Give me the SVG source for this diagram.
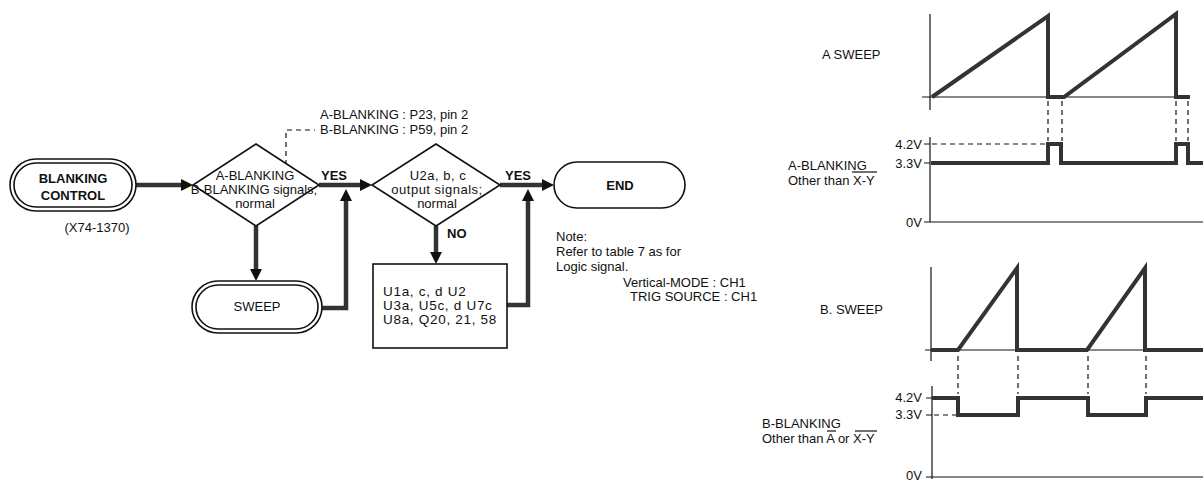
<svg xmlns="http://www.w3.org/2000/svg" width="1203" height="481" viewBox="0 0 1203 481">
<style>
text{font-family:"Liberation Sans",Arial,sans-serif;fill:#111;font-size:13px}
.b{font-weight:bold}
.box{fill:#fff;stroke:#111;stroke-width:1.6}
.thin{fill:none;stroke:#111;stroke-width:1.2}
.dash{fill:none;stroke:#111;stroke-width:1.2;stroke-dasharray:5 4}
.flow{fill:none;stroke:#333;stroke-width:4.5}
.sig{fill:none;stroke:#333;stroke-width:4;stroke-linejoin:miter}
.m{text-anchor:middle}
.e{text-anchor:end}
.w{letter-spacing:0.5px}
.ic{font-size:13.5px;letter-spacing:0.7px}
</style>
<defs>
<marker id="ah" markerUnits="userSpaceOnUse" markerWidth="12" markerHeight="12" refX="2" refY="6" orient="auto">
<path d="M0,0 L12,6 L0,12 z" fill="#111"/>
</marker>
</defs>

<g id="connectors">
<line class="flow" x1="136" y1="185" x2="183" y2="185" marker-end="url(#ah)"/>
<line class="flow" x1="319" y1="185" x2="362" y2="185" marker-end="url(#ah)"/>
<line class="flow" x1="500" y1="185" x2="544" y2="185" marker-end="url(#ah)"/>
<line class="flow" x1="256" y1="226" x2="256" y2="271" marker-end="url(#ah)"/>
<line class="flow" x1="436" y1="226" x2="436" y2="254" marker-end="url(#ah)"/>
<path class="flow" d="M322 308 H346 V199" marker-end="url(#ah)"/>
<path class="flow" d="M507 305 H528 V199" marker-end="url(#ah)"/>
<path class="dash" d="M286 165 V130 H315"/>
<text x="321" y="180" class="b" font-size="12">YES</text>
<text x="505" y="180" class="b" font-size="12">YES</text>
<text x="447" y="238" class="b" font-size="12">NO</text>
</g>

<g id="blanking-control">
<rect class="box" x="10" y="159" width="126" height="52" rx="26"/>
<rect class="box" x="14" y="163" width="118" height="44" rx="22"/>
<text x="73" y="183" class="b m" font-size="14">BLANKING</text>
<text x="73" y="200" class="b m" font-size="14">CONTROL</text>
<text x="97" y="232" class="m" font-size="12">(X74-1370)</text>
</g>

<g id="decision-1">
<polygon class="box" points="256,144 319,185 256,226 193,185"/>
<text x="255" y="180" class="m" font-size="12.5">A-BLANKING</text>
<text x="254" y="194" class="m" font-size="12.5">B-BLANKING signals;</text>
<text x="255" y="208" class="m" font-size="12.5">normal</text>
</g>

<g id="probe-note">
<text x="320" y="119" font-size="12.5">A-BLANKING : P23, pin 2</text>
<text x="320" y="134" font-size="12.5">B-BLANKING : P59, pin 2</text>
</g>

<g id="decision-2">
<polygon class="box" points="436,144 500,185 436,226 372,185"/>
<text x="438" y="180" class="m w">U2a, b, c</text>
<text x="437" y="194" class="m w">output signals;</text>
<text x="437" y="208" class="m">normal</text>
</g>

<g id="end">
<rect class="box" x="554" y="162" width="131" height="46" rx="23"/>
<text x="620" y="190" class="b m" font-size="14">END</text>
</g>

<g id="sweep">
<rect class="box" x="192" y="281" width="130" height="52" rx="26"/>
<rect class="box" x="196" y="285" width="122" height="44" rx="22"/>
<text x="257" y="311" class="m" font-size="12">SWEEP</text>
</g>

<g id="check-ics">
<rect class="box" x="373" y="264" width="134" height="84"/>
<text x="383" y="296" class="ic">U1a, c, d U2</text>
<text x="383" y="310" class="ic">U3a, U5c, d U7c</text>
<text x="383" y="324" class="ic">U8a, Q20, 21, 58</text>
</g>

<g id="note">
<text x="556" y="241">Note:</text>
<text x="556" y="256">Refer to table 7 as for</text>
<text x="556" y="271">Logic signal.</text>
<text x="623" y="287">Vertical-MODE : CH1</text>
<text x="630" y="301">TRIG SOURCE : CH1</text>
</g>

<g id="a-sweep">
<text x="822" y="59">A SWEEP</text>
<line class="thin" x1="930" y1="14" x2="930" y2="110"/>
<line class="thin" x1="922" y1="97" x2="1190" y2="97"/>
<path class="sig" d="M932 97 L1048 16 V97 H1064 L1176 14 V97 H1190"/>
<line class="dash" x1="1048" y1="101" x2="1048" y2="141"/>
<line class="dash" x1="1062" y1="101" x2="1062" y2="141"/>
<line class="dash" x1="1176" y1="101" x2="1176" y2="141"/>
<line class="dash" x1="1188" y1="101" x2="1188" y2="141"/>
</g>

<g id="a-blanking">
<text x="788" y="170">A-BLANKING</text>
<text x="788" y="185">Other than X-Y</text>
<line class="thin" x1="852" y1="172" x2="877" y2="172"/>
<text x="922" y="149" class="e">4.2V</text>
<text x="922" y="168" class="e">3.3V</text>
<text x="922" y="227" class="e">0V</text>
<line class="thin" x1="930" y1="137" x2="930" y2="222"/>
<path class="thin" d="M924 144 H930 M924 163 H930 M924 222 H930"/>
<line class="thin" x1="930" y1="222" x2="1203" y2="222"/>
<line class="dash" x1="932" y1="144" x2="1046" y2="144"/>
<path class="sig" d="M931 163 H1048 V144 H1061 V163 H1176 V144 H1188 V163 H1203"/>
</g>

<g id="b-sweep">
<text x="820" y="314">B. SWEEP</text>
<line class="thin" x1="931" y1="267" x2="931" y2="361"/>
<line class="thin" x1="925" y1="350" x2="1203" y2="350"/>
<path class="sig" d="M931 350 H958 L1017 268 V350 H1087 L1145 268 V350 H1203"/>
<line class="dash" x1="958" y1="356" x2="958" y2="394"/>
<line class="dash" x1="1018" y1="356" x2="1018" y2="394"/>
<line class="dash" x1="1088" y1="356" x2="1088" y2="394"/>
<line class="dash" x1="1146" y1="356" x2="1146" y2="394"/>
</g>

<g id="b-blanking">
<text x="762" y="428">B-BLANKING</text>
<text x="762" y="443">Other than A or X-Y</text>
<line class="thin" x1="827" y1="431" x2="836" y2="431"/>
<line class="thin" x1="855" y1="431" x2="877" y2="431"/>
<text x="922" y="402" class="e">4.2V</text>
<text x="922" y="419" class="e">3.3V</text>
<text x="922" y="480" class="e">0V</text>
<line class="thin" x1="932" y1="386" x2="932" y2="479"/>
<path class="thin" d="M926 398 H932 M926 415 H932 M926 477 H932"/>
<line class="thin" x1="932" y1="477" x2="1203" y2="477"/>
<line class="dash" x1="934" y1="415" x2="956" y2="415"/>
<path class="sig" d="M932 398 H958 V415 H1018 V398 H1088 V415 H1146 V398 H1203"/>
</g>
</svg>
